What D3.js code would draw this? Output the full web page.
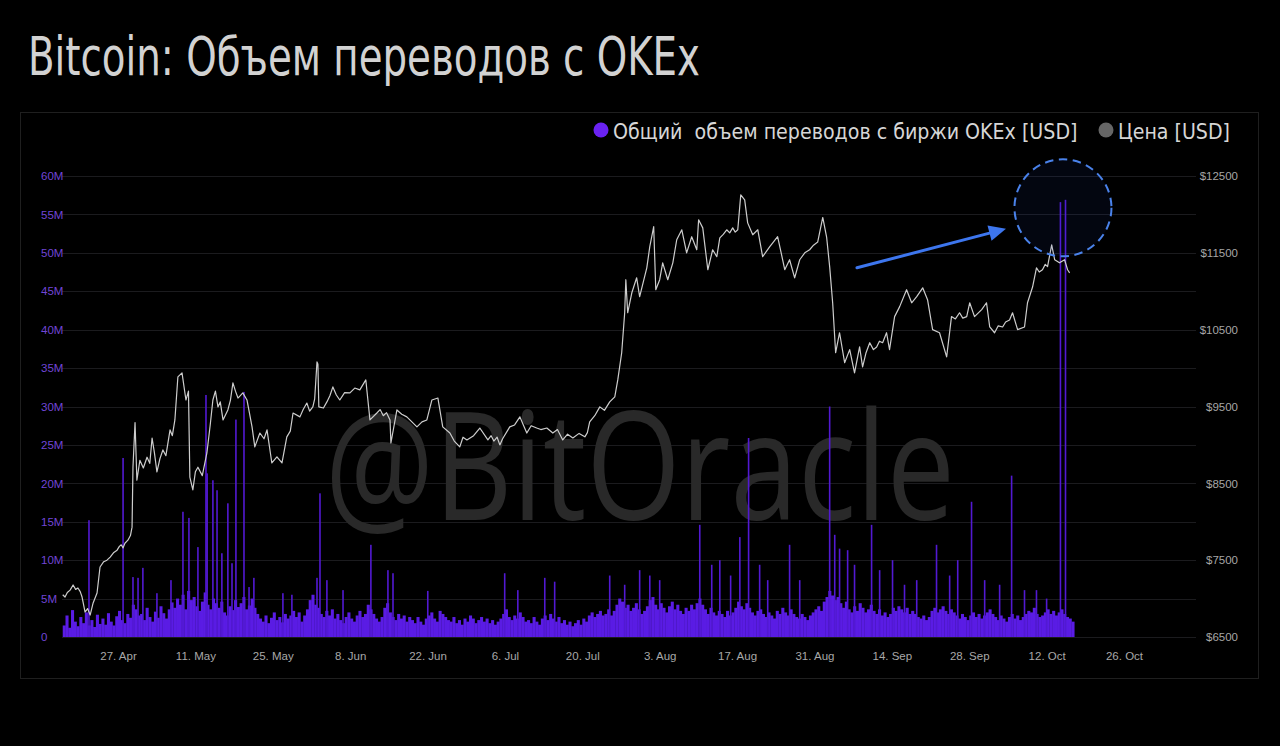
<!DOCTYPE html>
<html><head><meta charset="utf-8">
<script src="https://cdn.jsdelivr.net/npm/d3@7"></script>
<style>
html,body{margin:0;padding:0;background:#000;}
svg{display:block;}
</style></head>
<body>
<script>
// ---------- DATA ----------
const titleText = "Bitcoin: Объем переводов с OKEx";
const legendLabels = ["Общий  объем переводов с биржи OKEx [USD]", "Цена [USD]"];
const watermarkText = "@BitOracle";

const leftTicks = [0,5e6,10e6,15e6,20e6,25e6,30e6,35e6,40e6,45e6,50e6,55e6,60e6];
const rightTicks = [6500,7500,8500,9500,10500,11500,12500];
const xTickDates = ["2020-04-27","2020-05-11","2020-05-25","2020-06-08","2020-06-22","2020-07-06","2020-07-20","2020-08-03","2020-08-17","2020-08-31","2020-09-14","2020-09-28","2020-10-12","2020-10-26"];

// BTC price [USD]
const priceSeries = [
["2020-04-17 00",7050],["2020-04-17 10",7020],["2020-04-17 20",7080],["2020-04-18 08",7110],["2020-04-18 21",7177],
["2020-04-19 08",7120],["2020-04-19 18",7138],["2020-04-20 04",7090],["2020-04-20 12",7020],["2020-04-21 01",6825],
["2020-04-21 12",6870],["2020-04-21 23",6786],["2020-04-22 12",6943],["2020-04-23 05",7073],["2020-04-23 18",7411],
["2020-04-24 10",7480],["2020-04-25 00",7500],["2020-04-25 14",7540],["2020-04-26 06",7600],["2020-04-26 20",7630],
["2020-04-27 06",7680],["2020-04-27 14",7700],["2020-04-27 22",7660],["2020-04-28 06",7720],["2020-04-28 19",7760],
["2020-04-29 06",7820],["2020-04-29 13",7930],["2020-04-29 17",8710],["2020-04-30 02",9290],["2020-04-30 10",8540],
["2020-04-30 23",8800],["2020-05-01 14",8700],["2020-05-02 06",8840],["2020-05-02 18",8760],["2020-05-03 04",9090],
["2020-05-03 14",8900],["2020-05-04 01",8650],["2020-05-04 14",8820],["2020-05-05 03",8935],["2020-05-05 16",8860],
["2020-05-06 10",9195],["2020-05-06 20",9120],["2020-05-07 07",9325],["2020-05-07 20",9885],["2020-05-08 14",9937],
["2020-05-09 07",9585],["2020-05-09 18",9700],["2020-05-10 00",8580],["2020-05-10 13",8415],["2020-05-11 00",8650],
["2020-05-11 11",8710],["2020-05-12 06",8600],["2020-05-13 02",8895],["2020-05-13 16",9250],["2020-05-14 04",9585],
["2020-05-14 15",9700],["2020-05-15 02",9495],["2020-05-15 12",9560],["2020-05-16 00",9325],["2020-05-16 21",9455],
["2020-05-17 08",9580],["2020-05-17 19",9807],["2020-05-18 06",9700],["2020-05-18 17",9610],["2020-05-19 14",9677],
["2020-05-20 08",9585],["2020-05-21 06",9235],["2020-05-21 18",8975],["2020-05-22 16",9155],["2020-05-23 10",9080],
["2020-05-23 23",9195],["2020-05-24 20",8765],["2020-05-25 18",8845],["2020-05-26 16",8765],["2020-05-27 13",9105],
["2020-05-28 04",9180],["2020-05-28 16",9415],["2020-05-29 22",9365],["2020-05-30 12",9460],["2020-05-31 04",9545],
["2020-05-31 16",9440],["2020-06-01 06",9495],["2020-06-01 14",9600],["2020-06-02 00",10080],["2020-06-02 04",10050],
["2020-06-02 08",9495],["2020-06-03 04",9480],["2020-06-03 19",9560],["2020-06-04 08",9640],["2020-06-04 21",9755],
["2020-06-05 12",9650],["2020-06-06 03",9585],["2020-06-07 00",9680],["2020-06-07 23",9677],["2020-06-08 20",9740],
["2020-06-09 18",9716],["2020-06-10 20",9846],["2020-06-11 14",9325],["2020-06-12 20",9415],["2020-06-13 10",9460],
["2020-06-14 00",9380],["2020-06-14 14",9420],["2020-06-15 05",9325],["2020-06-15 09",9025],["2020-06-16 11",9455],
["2020-06-17 08",9400],["2020-06-18 06",9365],["2020-06-19 04",9300],["2020-06-20 02",9235],["2020-06-21 00",9300],
["2020-06-21 21",9325],["2020-06-22 19",9585],["2020-06-23 21",9610],["2020-06-24 18",9235],["2020-06-26 01",9155],
["2020-06-26 20",9050],["2020-06-27 20",8975],["2020-06-28 10",9100],["2020-06-29 03",9065],["2020-06-30 08",9120],
["2020-07-01 11",9220],["2020-07-02 22",9065],["2020-07-03 12",9120],["2020-07-04 00",9050],["2020-07-04 14",9100],
["2020-07-05 02",9000],["2020-07-05 14",9080],["2020-07-06 21",9235],["2020-07-07 18",9260],["2020-07-08 17",9365],
["2020-07-09 08",9260],["2020-07-09 23",9155],["2020-07-10 18",9250],["2020-07-11 18",9220],["2020-07-12 12",9200],
["2020-07-13 14",9220],["2020-07-14 16",9155],["2020-07-15 12",9200],["2020-07-16 11",9065],["2020-07-17 08",9140],
["2020-07-18 07",9090],["2020-07-19 10",9150],["2020-07-20 11",9105],["2020-07-20 22",9160],["2020-07-21 08",9300],
["2020-07-22 06",9380],["2020-07-23 04",9495],["2020-07-24 00",9450],["2020-07-24 23",9560],["2020-07-25 21",9625],
["2020-07-26 10",9846],["2020-07-27 03",10200],["2020-07-27 16",10720],["2020-07-27 21",11150],["2020-07-28 05",10720],
["2020-07-28 23",10980],["2020-07-29 20",11175],["2020-07-30 09",10930],["2020-07-31 16",11305],["2020-08-01 05",11580],
["2020-08-01 22",11840],["2020-08-02 07",11020],["2020-08-03 00",11150],["2020-08-03 13",11370],["2020-08-04 11",11150],
["2020-08-05 09",11370],["2020-08-06 02",11670],["2020-08-07 00",11800],["2020-08-07 21",11500],["2020-08-08 19",11710],
["2020-08-09 17",11540],["2020-08-10 01",11930],["2020-08-10 19",11825],["2020-08-11 17",11280],["2020-08-12 14",11540],
["2020-08-13 08",11450],["2020-08-13 21",11695],["2020-08-14 12",11740],["2020-08-15 03",11800],["2020-08-15 16",11760],
["2020-08-16 05",11825],["2020-08-16 16",11770],["2020-08-17 03",11800],["2020-08-17 16",12255],["2020-08-18 09",12190],
["2020-08-18 22",11890],["2020-08-19 20",11735],["2020-08-20 18",11800],["2020-08-21 15",11450],["2020-08-22 22",11580],
["2020-08-23 16",11650],["2020-08-24 08",11710],["2020-08-24 22",11520],["2020-08-25 15",11280],["2020-08-26 12",11410],
["2020-08-27 10",11175],["2020-08-28 08",11410],["2020-08-29 06",11500],["2020-08-30 03",11540],["2020-08-30 20",11600],
["2020-08-31 14",11640],["2020-09-01 12",11960],["2020-09-02 05",11700],["2020-09-02 18",11320],["2020-09-03 07",10850],
["2020-09-03 20",10200],["2020-09-04 13",10460],["2020-09-05 11",10070],["2020-09-06 09",10240],["2020-09-07 06",9937],
["2020-09-08 04",10275],["2020-09-08 17",10015],["2020-09-09 08",10200],["2020-09-10 00",10330],["2020-09-10 16",10240],
["2020-09-11 06",10275],["2020-09-11 18",10350],["2020-09-12 08",10330],["2020-09-13 01",10460],["2020-09-13 14",10240],
["2020-09-14 12",10670],["2020-09-15 10",10800],["2020-09-16 16",11020],["2020-09-17 14",10850],["2020-09-18 12",10930],
["2020-09-19 14",11045],["2020-09-20 11",10890],["2020-09-21 09",10500],["2020-09-22 15",10460],["2020-09-23 22",10145],
["2020-09-24 19",10670],["2020-09-25 12",10640],["2020-09-26 06",10720],["2020-09-26 20",10650],["2020-09-27 13",10670],
["2020-09-28 02",10850],["2020-09-28 23",10670],["2020-09-30 06",10760],["2020-10-01 03",10850],["2020-10-01 17",10535],
["2020-10-02 14",10460],["2020-10-03 06",10550],["2020-10-04 01",10535],["2020-10-04 14",10600],["2020-10-05 07",10625],
["2020-10-05 20",10720],["2020-10-06 18",10500],["2020-10-08 00",10535],["2020-10-08 13",10850],["2020-10-09 11",11055],
["2020-10-10 04",11305],["2020-10-10 16",11250],["2020-10-11 06",11280],["2020-10-11 18",11350],["2020-10-12 04",11320],
["2020-10-12 22",11605],["2020-10-13 11",11410],["2020-10-14 08",11370],["2020-10-15 06",11410],["2020-10-15 19",11280],
["2020-10-16 04",11240]
];

// OKEx outflow volume, 12-hour buckets [million USD], starting 2020-04-17 00:00
const volumeStart = "2020-04-17 00";
const volumeBase = [
1.5,2.8,1.2,3.5,2.0,1.4,2.6,1.8,3.2,1.5,2.2,1.3,2.9,1.7,
2.4,1.6,3.1,2.0,1.5,2.7,3.4,2.2,1.8,3.0,2.5,4.2,3.6,2.8,
3.0,2.2,3.8,2.6,2.0,3.3,2.5,4.0,3.1,2.4,3.6,4.5,3.8,5.0,
4.2,5.5,3.6,6.0,4.8,5.2,4.0,3.4,4.6,5.8,4.2,3.6,5.0,4.4,
3.8,4.6,3.2,2.8,4.0,3.5,4.8,3.9,4.4,5.2,3.6,4.1,5.0,3.8,
3.0,2.4,2.0,2.8,1.8,2.5,3.2,2.2,2.6,1.9,3.0,2.4,2.8,3.4,
2.6,3.2,2.0,2.8,3.6,4.8,5.5,4.2,3.8,3.0,2.6,3.4,2.8,3.6,
2.4,3.0,2.2,1.8,2.6,3.2,2.4,2.0,2.8,3.4,2.6,3.0,4.2,3.6,
3.0,2.4,2.0,2.6,3.8,4.4,3.2,2.6,2.2,3.0,2.4,2.8,2.0,2.6,
2.2,1.8,2.6,2.0,1.6,2.4,2.8,3.2,2.4,2.0,3.4,3.0,2.6,2.2,
2.0,2.6,1.8,2.2,1.6,2.4,2.0,2.8,2.4,1.8,2.2,2.6,2.0,2.4,
1.8,2.2,1.6,2.0,2.4,3.0,3.6,2.6,2.2,2.8,2.4,3.2,2.6,2.0,
2.2,1.8,2.6,2.0,1.6,2.4,2.8,2.2,3.0,2.4,2.0,2.6,1.8,2.2,
1.6,2.0,1.4,1.8,2.2,1.6,2.4,2.0,2.8,3.2,2.6,3.0,3.4,2.8,
3.0,3.6,2.8,3.4,4.2,5.0,4.6,3.8,4.2,3.4,3.8,4.4,3.6,3.0,
3.4,4.0,4.8,5.2,4.2,3.6,4.4,3.8,3.2,4.0,4.6,3.6,4.2,3.4,
3.0,3.8,3.4,4.2,3.6,4.4,5.0,4.2,3.6,3.0,3.8,3.2,2.8,3.4,
3.0,2.6,3.4,2.8,3.2,3.8,4.6,4.0,3.6,4.4,3.8,3.2,2.8,3.4,
3.6,3.0,2.6,3.2,2.8,2.4,3.4,3.0,3.8,3.2,2.8,3.6,3.0,2.6,
2.4,3.0,2.6,2.2,2.8,3.2,3.6,4.0,3.4,4.6,5.2,6.0,5.4,4.8,
5.2,4.4,3.8,4.6,3.6,3.2,4.0,3.4,4.4,3.8,3.2,3.6,4.2,3.4,
3.0,3.6,2.8,3.2,2.6,3.0,3.8,3.4,4.0,3.6,3.2,3.8,3.0,3.4,
3.0,2.6,2.4,2.8,2.2,2.6,3.4,3.8,3.2,3.6,4.0,3.4,3.0,3.6,
3.2,2.8,2.4,3.0,2.6,2.2,2.8,3.2,2.6,3.0,2.4,2.8,3.2,3.6,
3.0,2.6,2.2,2.8,2.4,2.0,2.6,3.0,2.4,2.8,2.2,2.6,3.0,3.4,
3.2,3.8,3.0,2.6,2.8,3.2,3.6,3.0,3.4,2.8,3.2,3.6,3.0,2.6,
2.4,2.0
];

// Hourly spikes [million USD]
const volumeSpikes = [
["2020-04-21 18",15.2],["2020-04-27 22",23.3],["2020-04-29 17",7.8],["2020-04-30 15",7.7],["2020-05-01 12",9.0],
["2020-05-04 01",5.7],["2020-05-06 14",7.4],["2020-05-08 18",16.3],["2020-05-09 20",15.5],["2020-05-11 11",11.7],
["2020-05-12 22",31.5],["2020-05-13 03",21.3],["2020-05-14 04",20.4],["2020-05-14 22",19.1],["2020-05-15 19",10.9],
["2020-05-16 21",17.4],["2020-05-17 15",9.6],["2020-05-18 08",28.3],["2020-05-19 19",31.9],["2020-05-20 17",6.5],
["2020-05-21 14",7.7],["2020-05-26 20",5.7],["2020-05-28 11",5.5],["2020-06-02 00",7.7],["2020-06-02 13",18.7],
["2020-06-03 19",7.4],["2020-06-06 17",6.1],["2020-06-11 18",12.0],["2020-06-14 20",8.7],["2020-06-15 18",8.3],
["2020-06-22 01",6.0],["2020-07-05 23",8.3],["2020-07-08 08",6.1],["2020-07-13 05",7.7],["2020-07-15 00",7.2],
["2020-07-24 23",8.0],["2020-07-27 16",6.8],["2020-07-30 09",8.7],["2020-08-01 05",8.0],["2020-08-03 00",7.4],
["2020-08-10 06",14.6],["2020-08-12 10",9.4],["2020-08-13 21",10.0],["2020-08-15 20",8.0],["2020-08-17 12",13.0],
["2020-08-19 02",25.9],["2020-08-21 02",9.4],["2020-08-22 13",7.4],["2020-08-26 12",12.0],["2020-08-28 08",7.4],
["2020-09-02 18",30.0],["2020-09-03 16",13.3],["2020-09-04 13",11.5],["2020-09-06 00",11.3],["2020-09-07 06",9.4],
["2020-09-10 08",14.6],["2020-09-11 19",8.7],["2020-09-14 03",10.0],["2020-09-16 07",6.8],["2020-09-18 12",7.4],
["2020-09-22 02",12.0],["2020-09-24 11",8.0],["2020-09-25 22",10.0],["2020-09-28 10",17.6],["2020-09-30 19",7.4],
["2020-10-03 12",6.8],["2020-10-05 16",21.0],["2020-10-08 00",6.1],["2020-10-10 04",6.1],["2020-10-12 00",5.0],
["2020-10-14 12",56.6],["2020-10-15 10",56.9]
];

// ---------- CHART ----------
const W = 1280, H = 746;
const parseH = d3.utcParse("%Y-%m-%d %H");
const parseD = d3.utcParse("%Y-%m-%d");

const svg = d3.select("body").append("svg").attr("width", W).attr("height", H)
  .style("background", "#000");

const x = d3.scaleUtc().domain([parseD("2020-04-27"), parseD("2020-10-26")]).range([118, 1124]);
const yVol = d3.scaleLinear().domain([0, 60e6]).range([637, 176]);
const yPrice = d3.scaleLinear().domain([6500, 12500]).range([637, 176]);

// panel
svg.append("rect").attr("x", 20.5).attr("y", 112.5).attr("width", 1238).attr("height", 566)
  .attr("fill", "#000").attr("stroke", "#1f1f1f").attr("stroke-width", 1);

// gridlines
svg.append("g").selectAll("line").data(leftTicks).join("line")
  .attr("x1", 62).attr("x2", 1196)
  .attr("y1", d => Math.round(yVol(d)) + 0.5).attr("y2", d => Math.round(yVol(d)) + 0.5)
  .attr("stroke", "#1b1b1e").attr("stroke-width", 1);

// watermark
svg.append("text").text(watermarkText)
  .attr("x", 640).attr("y", 520).attr("text-anchor", "middle")
  .attr("font-family", "'Open Sans', sans-serif").attr("font-size", 150)
  .attr("textLength", 630).attr("lengthAdjust", "spacingAndGlyphs")
  .attr("fill", "#292929");

// volume baseline bars
const t0 = parseH(volumeStart);
const stepMs = 12 * 3600 * 1000;
const baseData = volumeBase.map((v, i) => ({t: new Date(+t0 + i * stepMs), v: v * 1e6}));
svg.append("g").selectAll("rect").data(baseData).join("rect")
  .attr("x", d => x(d.t))
  .attr("width", d => x(new Date(+d.t + stepMs)) - x(d.t) + 0.3)
  .attr("y", d => yVol(d.v))
  .attr("height", d => yVol(0) - yVol(d.v))
  .attr("fill", "#5a1ce4");

// spikes
svg.append("g").selectAll("rect").data(volumeSpikes).join("rect")
  .attr("x", d => x(parseH(d[0])) - 0.8)
  .attr("width", 1.6)
  .attr("y", d => yVol(d[1] * 1e6))
  .attr("height", d => yVol(0) - yVol(d[1] * 1e6))
  .attr("fill", "#5219d2");

// price line
const line = d3.line().x(d => x(parseH(d[0]))).y(d => yPrice(d[1]));
svg.append("path").datum(priceSeries).attr("d", line)
  .attr("fill", "none").attr("stroke", "#cdcdcd").attr("stroke-width", 1.2)
  .attr("stroke-linejoin", "round");

// annotation circle (around the Oct 14-15 spikes)
const spikeA = volumeSpikes[volumeSpikes.length - 2], spikeB = volumeSpikes[volumeSpikes.length - 1];
const cx = (x(parseH(spikeA[0])) + x(parseH(spikeB[0]))) / 2;
const cy = yVol(spikeB[1] * 1e6) + 8;
svg.append("circle").attr("cx", cx).attr("cy", cy).attr("r", 48.5)
  .attr("fill", "#2a50d0").attr("fill-opacity", 0.08)
  .attr("stroke", "#4a82ea").attr("stroke-width", 2).attr("stroke-dasharray", "8.5,5.5");

// arrow pointing to the circle
const ax1 = cx - 206, ay1 = cy + 60, ax2 = cx - 57, ay2 = cy + 21;
const ang = Math.atan2(ay2 - ay1, ax2 - ax1);
const hl = 17, hw = 8;
const bx = ax2 - hl * Math.cos(ang), by = ay2 - hl * Math.sin(ang);
svg.append("line").attr("x1", ax1).attr("y1", ay1).attr("x2", bx).attr("y2", by)
  .attr("stroke", "#3d76ee").attr("stroke-width", 3).attr("stroke-linecap", "round");
svg.append("polygon")
  .attr("points", [[ax2, ay2],
    [bx + hw * Math.sin(ang), by - hw * Math.cos(ang)],
    [bx - hw * Math.sin(ang), by + hw * Math.cos(ang)]].map(p => p.join(",")).join(" "))
  .attr("fill", "#3d76ee");

// axes
const fmtM = d => d === 0 ? "0" : (d / 1e6) + "M";
const gL = svg.append("g").attr("transform", "translate(41,0)")
  .call(d3.axisRight(yVol).tickValues(leftTicks).tickFormat(fmtM).tickSize(0).tickPadding(0));
gL.select(".domain").remove();
gL.selectAll("text").attr("fill", "#7145d6").attr("font-size", 11.5)
  .attr("font-family", "'Liberation Sans', Arial, sans-serif");

const gR = svg.append("g").attr("transform", "translate(1238,0)")
  .call(d3.axisLeft(yPrice).tickValues(rightTicks).tickFormat(d => "$" + d).tickSize(0).tickPadding(0));
gR.select(".domain").remove();
gR.selectAll("text").attr("fill", "#a6a6a6").attr("font-size", 11.5)
  .attr("font-family", "'Liberation Sans', Arial, sans-serif");

const gX = svg.append("g").attr("transform", "translate(0,649)")
  .call(d3.axisBottom(x).tickValues(xTickDates.map(parseD)).tickFormat(d3.utcFormat("%-d. %b")).tickSize(0).tickPadding(3));
gX.select(".domain").remove();
gX.selectAll("text").attr("fill", "#a8a8a8").attr("font-size", 11.5)
  .attr("font-family", "'Liberation Sans', Arial, sans-serif");

// text fitted to a target width: shrink the font if too wide, stretch if narrower
const condensed = "'Liberation Sans Narrow', 'DejaVu Sans Condensed', 'Roboto', sans-serif";
function fitText(t, xPos, yPos, size, target, fill) {
  const el = svg.append("text").text(t).attr("x", xPos).attr("y", yPos)
    .attr("font-family", condensed).attr("font-size", size).attr("fill", fill)
    .style("white-space", "pre");
  const len = el.node().getComputedTextLength();
  if (len > target) {
    el.attr("font-size", size * target / len);
  } else if (len < target) {
    el.attr("textLength", target).attr("lengthAdjust", "spacingAndGlyphs");
  }
  return el;
}

// legend
svg.append("circle").attr("cx", 601).attr("cy", 130).attr("r", 7.5).attr("fill", "#6a22f2");
fitText(legendLabels[0], 613, 139, 26, 465, "#d6d6d6");
svg.append("circle").attr("cx", 1106).attr("cy", 130).attr("r", 7.5).attr("fill", "#666");
fitText(legendLabels[1], 1118, 139, 26, 112, "#d6d6d6");

// title: taller glyphs, horizontally condensed to the reference width
svg.append("text").text(titleText).attr("x", 28).attr("y", 75)
  .attr("font-family", condensed).attr("font-size", 53).attr("fill", "#d2d2d2")
  .attr("textLength", 672).attr("lengthAdjust", "spacingAndGlyphs");
</script>
</body></html>
